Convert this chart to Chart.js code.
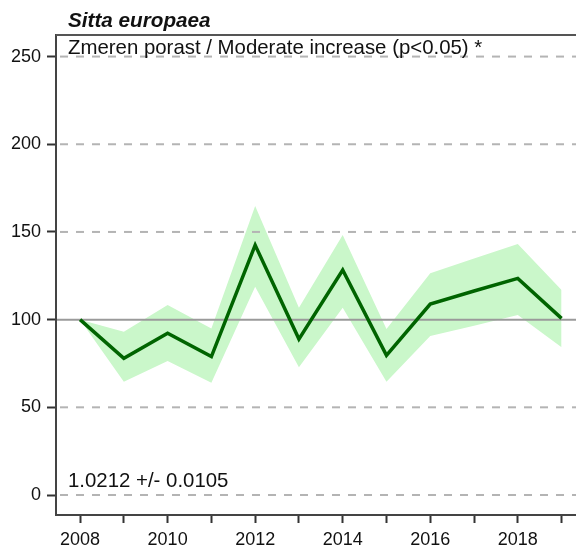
<!DOCTYPE html>
<html>
<head>
<meta charset="utf-8">
<script src="https://cdn.jsdelivr.net/npm/chart.js@4"></script>
<style>
  body { margin: 0; background: #fff; }
  #wrap { width: 576px; height: 548px; position: relative; }
</style>
</head>
<body>
<div id="wrap"><canvas id="trend_chart"></canvas></div>
<script>
const years = [2008, 2009, 2010, 2011, 2012, 2013, 2014, 2015, 2016, 2017, 2018, 2019];
const indexValues = [100, 77.9, 92.2, 78.9, 142.5, 88.9, 128.3, 79.6, 108.9, 116.3, 123.5, 100.7];
const upperValues = [100, 93.1, 108.3, 95.0, 164.8, 106.8, 148.2, 94.7, 126.4, 134.8, 143.1, 116.9];
const lowerValues = [100, 64.6, 76.4, 64.0, 118.8, 72.8, 106.8, 64.6, 90.6, 96.5, 102.6, 84.2];
const yTicks = [0, 50, 100, 150, 200, 250];
const xLabelYears = [2008, 2010, 2012, 2014, 2016, 2018];

const speciesName = 'Sitta europaea';
const trendText = 'Zmeren porast / Moderate increase (p<0.05) *';
const slopeText = '1.0212 +/- 0.0105';

const FONT = "'Liberation Sans', Arial, sans-serif";

const toPoints = (vals) => years.map((y, i) => ({ x: y, y: vals[i] }));

// dashed grid + solid 100 line, drawn over the band but under the index line
const gridPlugin = {
  id: 'gridLines',
  beforeDatasetDraw(chart, args) {
    if (args.index !== 0) return;
    const { ctx, chartArea, scales } = chart;
    ctx.save();
    for (let v of yTicks) {
      const py = scales.y.getPixelForValue(v);
      ctx.beginPath();
      if (v === 100) {
        ctx.setLineDash([]);
        ctx.strokeStyle = '#9a9a9a';
      } else {
        ctx.setLineDash([8, 8]);
        ctx.lineDashOffset = -3;
        ctx.strokeStyle = '#b4b4b4';
      }
      ctx.lineWidth = 2;
      ctx.moveTo(chartArea.left + 1, py);
      ctx.lineTo(chartArea.right, py);
      ctx.stroke();
    }
    ctx.restore();
  }
};

const textPlugin = {
  id: 'texts',
  afterDraw(chart) {
    const { ctx, chartArea } = chart;
    ctx.save();
    // top frame line
    ctx.strokeStyle = '#555';
    ctx.lineWidth = 2;
    ctx.beginPath();
    ctx.moveTo(chartArea.left, chartArea.top);
    ctx.lineTo(chartArea.right, chartArea.top);
    ctx.stroke();

    ctx.fillStyle = '#111';
    ctx.textBaseline = 'alphabetic';
    ctx.textAlign = 'left';
    ctx.font = 'italic bold 20.7px ' + FONT;
    ctx.fillText(speciesName, chartArea.left + 12, 27);
    ctx.font = '20.4px ' + FONT;
    ctx.fillText(trendText, chartArea.left + 12, 54);
    ctx.fillText(slopeText, chartArea.left + 12, 487);
    ctx.restore();
  }
};

const ctx = document.getElementById('trend_chart');
new Chart(ctx, {
  type: 'line',
  data: {
    datasets: [
      {
        label: 'index',
        data: toPoints(indexValues),
        borderColor: '#006400',
        borderWidth: 3.5,
        pointRadius: 0,
        tension: 0,
        fill: false
      },
      {
        label: 'upper',
        data: toPoints(upperValues),
        borderWidth: 0,
        borderColor: 'rgba(0,0,0,0)',
        backgroundColor: 'rgb(202,247,202)',
        pointRadius: 0,
        tension: 0,
        fill: '+1'
      },
      {
        label: 'lower',
        data: toPoints(lowerValues),
        borderWidth: 0,
        borderColor: 'rgba(0,0,0,0)',
        pointRadius: 0,
        tension: 0,
        fill: false
      }
    ]
  },
  options: {
    responsive: true,
    maintainAspectRatio: false,
    animation: false,
    layout: { padding: { top: 35, right: 0, left: 0, bottom: 0 } },
    plugins: {
      legend: { display: false },
      tooltip: { enabled: false },
      title: { display: false }
    },
    scales: {
      x: {
        type: 'linear',
        min: 2007.45,
        max: 2019.33,
        afterBuildTicks: (s) => { s.ticks = years.map(v => ({ value: v })); },
        afterFit: (s) => { s.height = 33; },
        ticks: {
          autoSkip: false,
          maxRotation: 0,
          padding: 6,
          color: '#111',
          font: { family: FONT, size: 18 },
          callback: (v) => xLabelYears.includes(v) ? String(v) : ''
        },
        grid: {
          drawOnChartArea: false,
          drawTicks: true,
          tickLength: 8,
          tickColor: '#333',
          tickWidth: 2
        },
        border: { display: true, color: '#444', width: 2 }
      },
      y: {
        min: -11.4,
        max: 262.3,
        afterBuildTicks: (s) => { s.ticks = yTicks.map(v => ({ value: v })); },
        afterFit: (s) => { s.width = 56; },
        ticks: {
          padding: 6,
          color: '#111',
          font: { family: FONT, size: 18 }
        },
        grid: {
          drawOnChartArea: false,
          drawTicks: true,
          tickLength: 9,
          tickColor: '#333',
          tickWidth: 2
        },
        border: { display: true, color: '#444', width: 2 }
      }
    }
  },
  plugins: [gridPlugin, textPlugin]
});
</script>
</body>
</html>
